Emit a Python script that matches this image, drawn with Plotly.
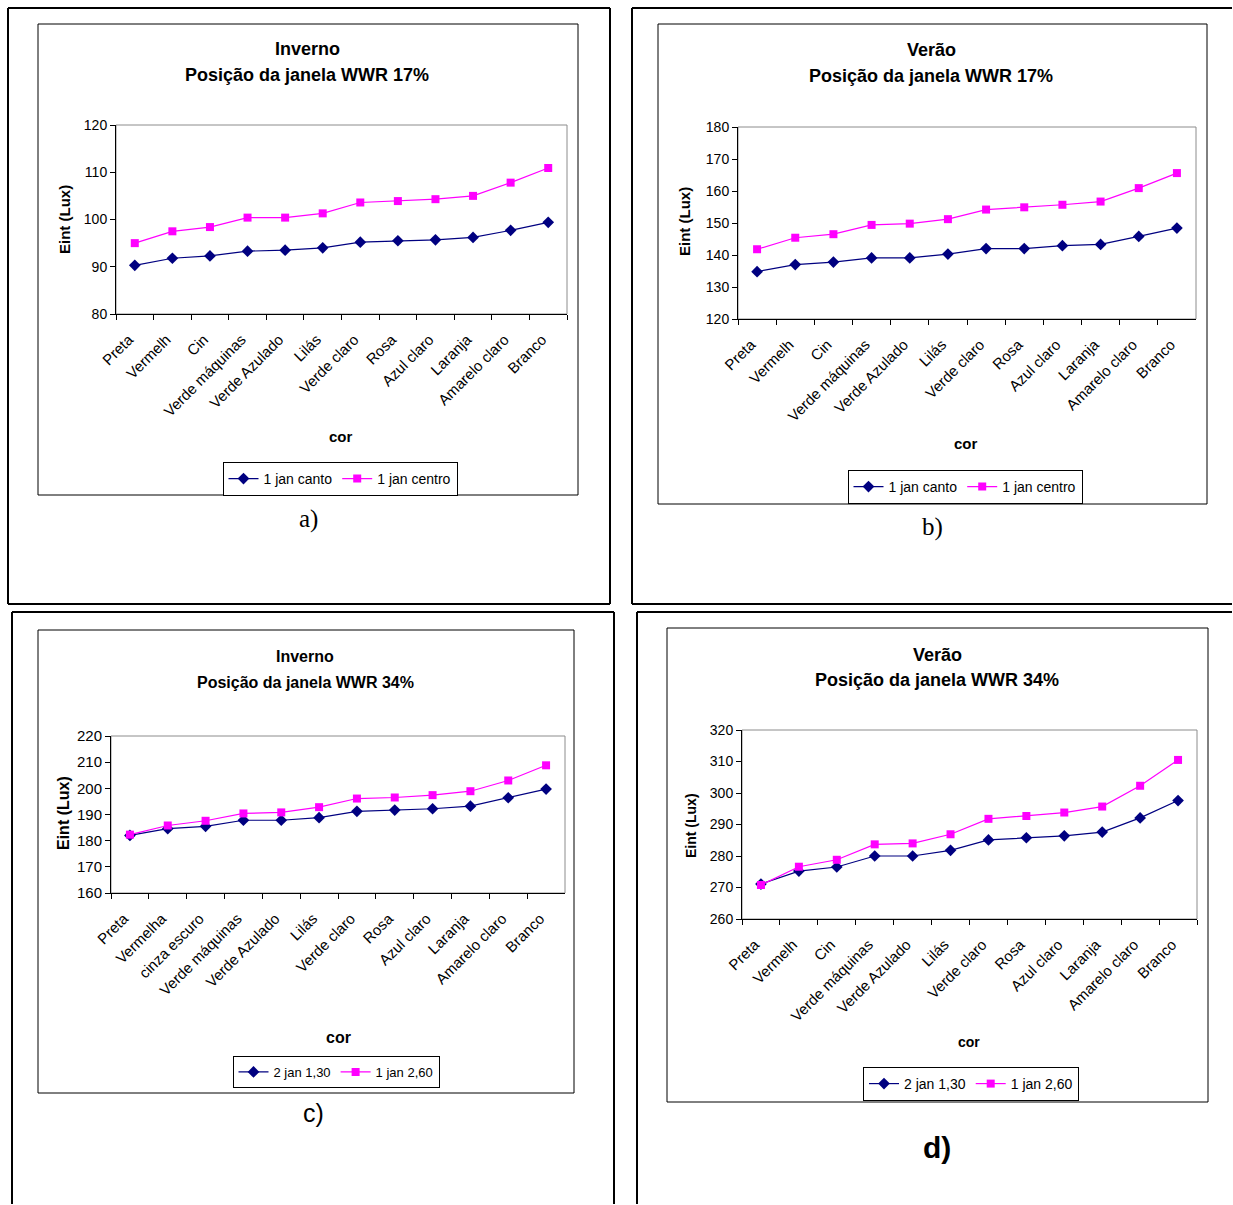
import plotly.graph_objects as go

W, H = 1233, 1205

# ---------------- data ----------------
cats_a = ["Preta", "Vermelh", "Cin", "Verde máquinas", "Verde Azulado", "Lilás",
          "Verde claro", "Rosa", "Azul claro", "Laranja", "Amarelo claro", "Branco"]
cats_c = ["Preta", "Vermelha", "cinza escuro", "Verde máquinas", "Verde Azulado", "Lilás",
          "Verde claro", "Rosa", "Azul claro", "Laranja", "Amarelo claro", "Branco"]

a_canto = [90.3, 91.8, 92.3, 93.3, 93.5, 94.0, 95.2, 95.5, 95.7, 96.2, 97.7, 99.4]
a_centro = [95.0, 97.5, 98.4, 100.4, 100.4, 101.3, 103.6, 103.9, 104.3, 105.0, 107.8, 110.9]

b_canto = [134.8, 137.0, 137.8, 139.1, 139.1, 140.3, 142.0, 142.0, 142.9, 143.3, 145.8, 148.4]
b_centro = [141.8, 145.4, 146.5, 149.4, 149.8, 151.2, 154.2, 154.9, 155.7, 156.7, 160.9, 165.6]

c_2jan = [182.0, 184.6, 185.5, 187.8, 187.8, 188.8, 191.2, 191.7, 192.2, 193.2, 196.4, 199.7]
c_1jan = [182.3, 185.8, 187.6, 190.4, 190.8, 192.8, 196.1, 196.5, 197.4, 198.9, 203.0, 208.8]

d_2jan = [271.1, 275.2, 276.5, 280.0, 280.0, 281.8, 285.1, 285.8, 286.4, 287.6, 292.1, 297.6]
d_1jan = [270.8, 276.6, 278.8, 283.7, 284.0, 286.9, 291.8, 292.7, 293.8, 295.7, 302.3, 310.5]

names_ab = ["1 jan canto", "1 jan centro"]
names_cd = ["2 jan 1,30", "1 jan 2,60"]

titles = [("Inverno", "Posição da janela WWR 17%"),
          ("Verão", "Posição da janela WWR 17%"),
          ("Inverno", "Posição da janela WWR 34%"),
          ("Verão", "Posição da janela WWR 34%")]
y_ranges = [(80, 120), (120, 180), (160, 220), (260, 320)]
captions = ["a)", "b)", "c)", "d)"]

# ---------------- layout geometry (pixels) ----------------
SANS = "Liberation Sans, Arial, sans-serif"
NARROW = "Liberation Sans Narrow, Arial Narrow, Liberation Sans, sans-serif"
SERIF = "Liberation Serif, Times New Roman, serif"

# outer panel frames given as visible line segments (x0, y0, x1, y1)
panels = [
    dict(cats=cats_a, s1=a_canto, s2=a_centro, names=names_ab, font=SANS,
         tfs=18, xfs=15, yfs=14, afs=15, lfs=14,
         plot=(116, 567, 125, 314),
         outer=[(8, 8, 610, 8), (8, 604, 610, 604), (8, 8, 8, 604), (610, 8, 610, 604)],
         inner=(38, 578, 24, 495),
         title_xy=(307, 49, 75), ytitle=(64, 220), xtitle=(341, 436), legend=(340, 462),
         cap=(308, 519), capfont=dict(family=SERIF, size=25)),
    dict(cats=cats_a, s1=b_canto, s2=b_centro, names=names_ab, font=SANS,
         tfs=18, xfs=15, yfs=14, afs=15, lfs=14,
         plot=(738, 1196, 127, 319),
         outer=[(632, 8, 1232, 8), (632, 604, 1232, 604), (632, 8, 632, 604)],
         inner=(658, 1207, 24, 504),
         title_xy=(931, 50, 76), ytitle=(684, 222), xtitle=(966, 443), legend=(965, 470),
         cap=(932, 527), capfont=dict(family=SERIF, size=25)),
    dict(cats=cats_c, s1=c_2jan, s2=c_1jan, names=names_cd, font=NARROW,
         tfs=16, xfs=15, yfs=15, afs=16, lfs=13,
         plot=(111, 565, 736, 893),
         outer=[(12, 612, 614, 612), (12, 612, 12, 1204), (614, 612, 614, 1204)],
         inner=(38, 574, 630, 1093),
         title_xy=(305, 656, 682), ytitle=(63, 813), xtitle=(338, 1037), legend=(336, 1056),
         cap=(313, 1113), capfont=dict(family=SANS, size=25)),
    dict(cats=cats_a, s1=d_2jan, s2=d_1jan, names=names_cd, font=SANS,
         tfs=18, xfs=15, yfs=14, afs=14, lfs=14,
         plot=(742, 1197, 730, 919),
         outer=[(637, 612, 1232, 612), (637, 612, 637, 1204)],
         inner=(667, 1208, 628, 1102),
         title_xy=(937, 655, 680), ytitle=(691, 826), xtitle=(969, 1042), legend=(971, 1067),
         cap=(937, 1147), capfont=dict(family=SANS, size=30)),
]


def px(x):
    return x / W


def py(y):
    return 1 - y / H


fig = go.Figure()
shapes = []
annotations = []
layout = dict(width=W, height=H, margin=dict(l=0, r=0, t=0, b=0, pad=0, autoexpand=False),
              autosize=False, template="none",
              paper_bgcolor="white", plot_bgcolor="white", showlegend=True)

for i, p in enumerate(panels):
    k = "" if i == 0 else str(i + 1)
    xa, ya = "x" + k, "y" + k
    leg = "legend" if i == 0 else "legend" + str(i + 1)
    fig.add_trace(go.Scatter(x=p["cats"], y=p["s1"], name=p["names"][0], mode="lines+markers",
                             line=dict(color="#000080", width=1.2),
                             marker=dict(symbol="diamond", size=9, color="#000080"),
                             xaxis=xa, yaxis=ya, legend=leg))
    fig.add_trace(go.Scatter(x=p["cats"], y=p["s2"], name=p["names"][1], mode="lines+markers",
                             line=dict(color="#FF00FF", width=1.2),
                             marker=dict(symbol="square", size=8, color="#FF00FF"),
                             xaxis=xa, yaxis=ya, legend=leg))
    x0, x1, y0, y1 = p["plot"]
    layout["xaxis" + k] = dict(domain=[px(x0), px(x1)], anchor=ya, type="category",
                               tickson="boundaries", ticks="outside", ticklen=5, tickcolor="black",
                               showline=True, linecolor="black", linewidth=1, showgrid=False,
                               automargin=False, ticklabelstandoff=10, ticklabelshift=-6,
                               tickangle=-45, tickfont=dict(family=p["font"], size=p["xfs"], color="black"),
                               range=[-0.5, 11.5], zeroline=False)
    layout["yaxis" + k] = dict(domain=[py(y1), py(y0)], anchor=xa, range=list(y_ranges[i]),
                               dtick=10, ticks="outside", ticklen=5, tickcolor="black",
                               showline=True, linecolor="black", linewidth=1, showgrid=False,
                               automargin=False,
                               tickfont=dict(family=p["font"], size=p["yfs"], color="black"),
                               zeroline=False)
    # plot area gray border (top / right)
    shapes.append(dict(type="rect", xref="paper", yref="paper", x0=px(x0), x1=px(x1),
                       y0=py(y1), y1=py(y0), line=dict(color="#8c8c8c", width=1), layer="below"))
    # outer panel frame
    for (a0, b0, a1, b1) in p["outer"]:
        shapes.append(dict(type="line", xref="paper", yref="paper", x0=px(a0), x1=px(a1),
                           y0=py(b0), y1=py(b1), line=dict(color="black", width=2)))
    # inner chart box
    ix0, ix1, iy0, iy1 = p["inner"]
    shapes.append(dict(type="rect", xref="paper", yref="paper", x0=px(ix0), x1=px(ix1),
                       y0=py(iy1), y1=py(iy0), line=dict(color="black", width=1)))
    # titles
    tx, ty1, ty2 = p["title_xy"]
    for txt, ty in zip(titles[i], (ty1, ty2)):
        annotations.append(dict(text="<b>%s</b>" % txt, x=px(tx), y=py(ty), xref="paper", yref="paper",
                                showarrow=False, xanchor="center", yanchor="middle",
                                font=dict(family=p["font"], size=p["tfs"], color="black")))
    # axis titles
    yx, yy = p["ytitle"]
    annotations.append(dict(text="<b>Eint (Lux)</b>", x=px(yx), y=py(yy), xref="paper", yref="paper",
                            showarrow=False, textangle=-90, xanchor="center", yanchor="middle",
                            font=dict(family=p["font"], size=p["afs"], color="black")))
    cx, cy = p["xtitle"]
    annotations.append(dict(text="<b>cor</b>", x=px(cx), y=py(cy), xref="paper", yref="paper",
                            showarrow=False, xanchor="center", yanchor="middle",
                            font=dict(family=p["font"], size=p["afs"], color="black")))
    # caption
    kx, ky = p["cap"]
    cap_txt = "<b>%s</b>" % captions[i] if i == 3 else captions[i]
    annotations.append(dict(text=cap_txt, x=px(kx), y=py(ky), xref="paper", yref="paper",
                            showarrow=False, xanchor="center", yanchor="middle",
                            font=dict(color="black", **p["capfont"])))
    # legend
    lx, ly = p["legend"]
    layout[leg] = dict(x=px(lx), y=py(ly), xanchor="center", yanchor="top", orientation="h",
                       bordercolor="black", borderwidth=1, bgcolor="white",
                       font=dict(family=p["font"], size=p["lfs"], color="black"),
                       itemwidth=30, tracegroupgap=0)

layout["shapes"] = shapes
layout["annotations"] = annotations
fig.update_layout(**layout)
fig.write_html("out.html", config={"displayModeBar": False},
               post_script="document.body.style.margin='0px';document.body.style.overflow='hidden';")
